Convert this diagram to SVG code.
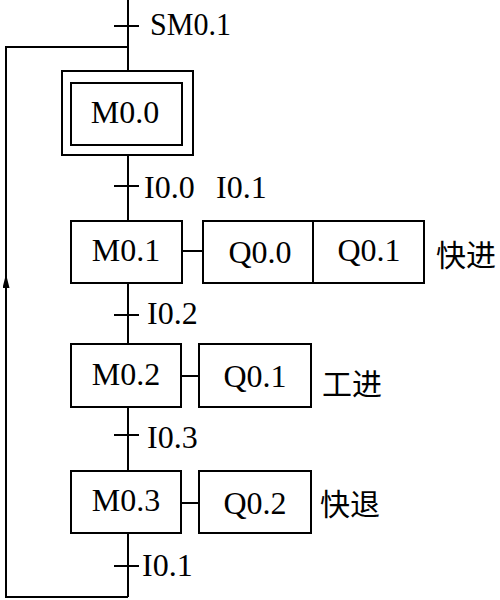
<svg xmlns="http://www.w3.org/2000/svg" width="500" height="600" viewBox="0 0 500 600">
<style>
.ln{stroke:#000;stroke-width:2;fill:none}
.bx{stroke:#000;stroke-width:2;fill:#fff}
.t{font-family:'Liberation Serif',serif;font-size:32px;fill:#000}
.m{text-anchor:middle}
.c{font-family:'Noto Sans CJK SC',sans-serif;font-size:30px;fill:#000}
</style>
<defs>
<marker id="ah" viewBox="0 0 20 10" refX="20" refY="5" markerWidth="16" markerHeight="7" markerUnits="userSpaceOnUse" orient="auto">
<path d="M0,0 L20,5 L0,10 Z" fill="#000"/>
</marker>
</defs>
<g id="connectors">
<line class="ln" x1="128" y1="0" x2="128" y2="71"/>
<line class="ln" x1="114" y1="26" x2="139" y2="26"/>
<polyline class="ln" points="128,47 6,47 6,597 128,597"/>
<line class="ln" x1="6" y1="292" x2="6" y2="274" marker-end="url(#ah)"/>
<line class="ln" x1="128" y1="155" x2="128" y2="221"/>
<line class="ln" x1="114" y1="186" x2="139" y2="186"/>
<line class="ln" x1="128" y1="283" x2="128" y2="344"/>
<line class="ln" x1="114" y1="315" x2="139" y2="315"/>
<line class="ln" x1="128" y1="407" x2="128" y2="471"/>
<line class="ln" x1="114" y1="435" x2="139" y2="435"/>
<line class="ln" x1="128" y1="533" x2="128" y2="597"/>
<line class="ln" x1="114" y1="566" x2="139" y2="566"/>
<line class="ln" x1="182" y1="251" x2="203" y2="251"/>
<line class="ln" x1="181" y1="376" x2="199" y2="376"/>
<line class="ln" x1="181" y1="503" x2="199" y2="503"/>
</g>
<g id="labels">
<text class="t" x="150" y="35" textLength="81" lengthAdjust="spacingAndGlyphs">SM0.1</text>
<text class="t" x="144" y="198">I0.0</text>
<text class="t" x="216" y="198">I0.1</text>
<text class="t" x="147" y="324">I0.2</text>
<text class="t" x="147" y="448">I0.3</text>
<text class="t" x="142" y="576">I0.1</text>
</g>
<g id="M0.0">
<rect class="bx" x="62" y="71" width="131" height="84"/>
<rect class="bx" x="71" y="83" width="111" height="62"/>
<text class="t m" x="125" y="123">M0.0</text>
</g>
<g id="M0.1">
<rect class="bx" x="71" y="221" width="111" height="62"/>
<text class="t m" x="126" y="261">M0.1</text>
</g>
<g id="Q0.0-Q0.1">
<rect class="bx" x="203" y="221" width="221" height="62"/>
<line class="ln" x1="313" y1="221" x2="313" y2="283"/>
<text class="t m" x="260" y="263">Q0.0</text>
<text class="t m" x="369" y="261">Q0.1</text>
<text class="c" x="436" y="266">快进</text>
</g>
<g id="M0.2">
<rect class="bx" x="71" y="344" width="110" height="63"/>
<text class="t m" x="126" y="385">M0.2</text>
</g>
<g id="Q0.1">
<rect class="bx" x="199" y="344" width="112" height="63"/>
<text class="t m" x="255" y="387">Q0.1</text>
<text class="c" x="322" y="395">工进</text>
</g>
<g id="M0.3">
<rect class="bx" x="71" y="471" width="110" height="62"/>
<text class="t m" x="126" y="511">M0.3</text>
</g>
<g id="Q0.2">
<rect class="bx" x="199" y="471" width="112" height="62"/>
<text class="t m" x="255" y="514">Q0.2</text>
<text class="c" x="320" y="515">快退</text>
</g>
</svg>
